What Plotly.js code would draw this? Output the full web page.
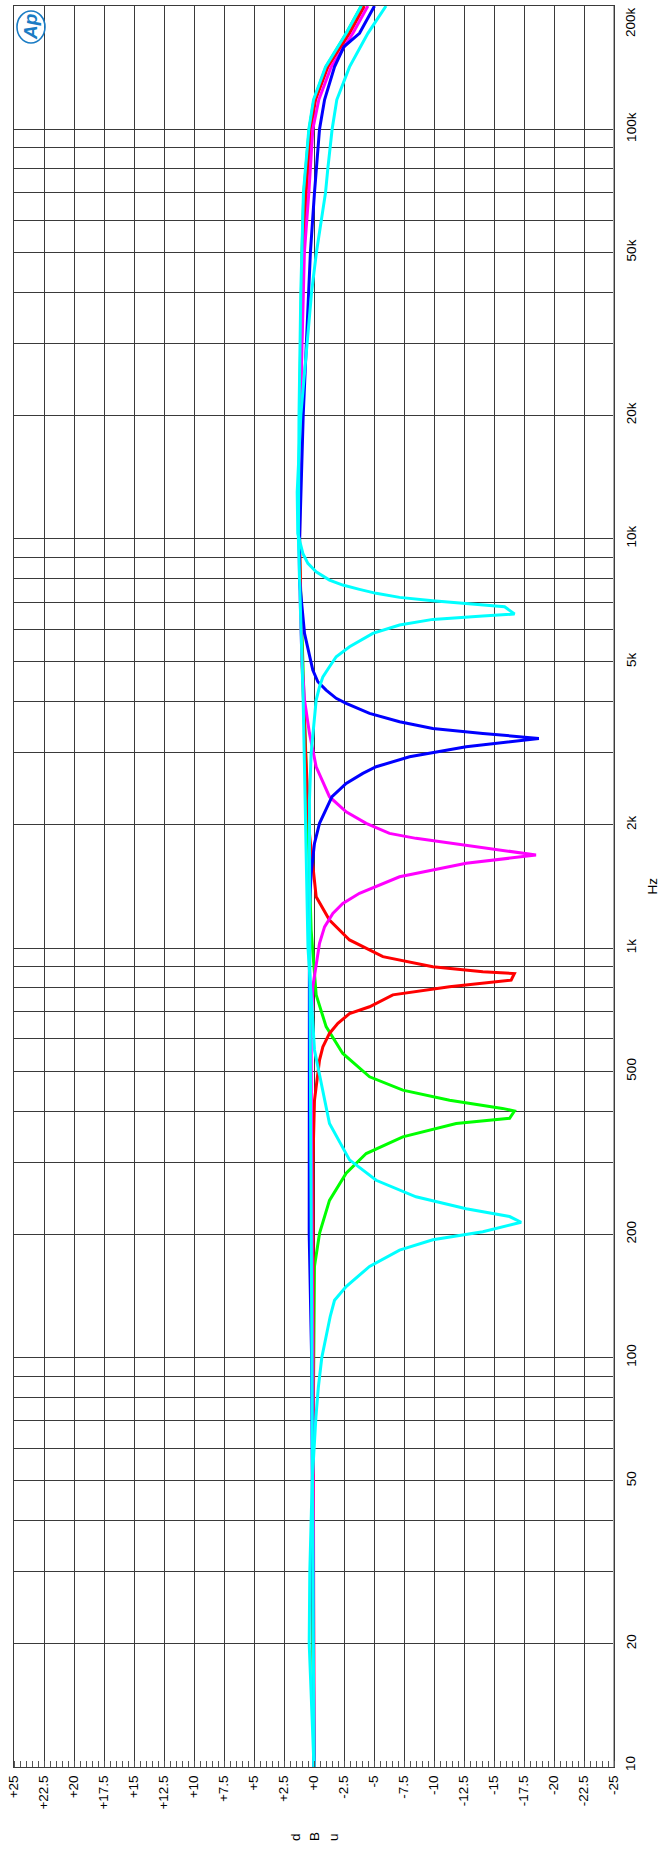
<!DOCTYPE html>
<html>
<head>
<meta charset="utf-8">
<script src="https://cdn.plot.ly/plotly-3.0.1.min.js"></script>
<style>
  html, body { margin: 0; padding: 0; background: #fff; }
  #chart { width: 660px; height: 1852px; }
</style>
</head>
<body>
<div id="chart"></div>
<script>
// ---- axis tick labels ----
const dbTickVals = [25, 22.5, 20, 17.5, 15, 12.5, 10, 7.5, 5, 2.5, 0, -2.5, -5, -7.5, -10, -12.5, -15, -17.5, -20, -22.5, -25];
const dbTickText = ['+25', '+22.5', '+20', '+17.5', '+15', '+12.5', '+10', '+7.5', '+5', '+2.5', '+0', '-2.5', '-5', '-7.5', '-10', '-12.5', '-15', '-17.5', '-20', '-22.5', '-25'];
const freqLabelVals = [20, 50, 100, 200, 500, 1000, 2000, 5000, 10000, 20000, 50000, 100000];
const freqLabelText = ['20', '50', '100', '200', '500', '1k', '2k', '5k', '10k', '20k', '50k', '100k'];
const freqEndVals = [10, 200000];
const freqEndText = ['10', '200k'];

// ---- series (Hz, dBu) ----
const cyanAFreq = [10, 20, 30, 50, 71.5, 84.5, 100, 114, 126, 138, 149, 167, 183, 194, 203, 214, 221, 231, 247, 271, 304, 373, 485, 564, 769, 1000, 2000, 4000, 7000, 10000, 20000, 40000, 70000, 80000, 100000, 118000, 142000, 171500, 200000];
const cyanADb   = [0.0, 0.4, 0.35, 0.15, -0.16, -0.36, -0.65, -1.05, -1.35, -1.71, -2.68, -4.63, -7.13, -9.9, -14.07, -17.26, -16.3, -12.68, -8.5, -5.18, -2.96, -1.29, -0.46, -0.04, 0.24, 0.5, 0.7, 0.9, 1.15, 1.3, 1.25, 1.1, 0.88, 0.71, 0.43, 0.04, -0.96, -2.68, -3.93];

const greenFreq = [10, 20, 50, 100, 130, 167, 201, 242, 282, 315, 346, 373, 384, 400, 406, 425, 450, 485, 553, 643, 769, 1107, 2000, 5000, 10000, 20000, 50000, 70000, 100000, 118000, 142000, 171500, 200000];
const greenDb   = [0.0, 0.1, 0.1, 0.05, 0.0, -0.04, -0.46, -1.29, -2.68, -4.35, -7.4, -11.85, -16.3, -16.7, -15.7, -11.3, -7.4, -4.63, -2.4, -1.01, -0.18, 0.24, 0.5, 0.9, 1.25, 1.2, 1.0, 0.85, 0.4, 0.0, -1.0, -2.7, -3.95];

const redFreq = [10, 50, 100, 185, 292, 425, 533, 574, 619, 655, 692, 719, 769, 805, 835, 867, 876, 901, 953, 1047, 1171, 1335, 1907, 3000, 5000, 10000, 20000, 50000, 70000, 100000, 118000, 142000, 171500, 200000];
const redDb   = [0.0, 0.05, 0.1, 0.1, 0.1, -0.04, -0.46, -0.74, -1.29, -1.99, -2.96, -4.63, -6.57, -11.29, -16.43, -16.7, -14.07, -9.9, -5.74, -2.96, -1.29, -0.18, 0.38, 0.7, 1.0, 1.2, 1.15, 0.9, 0.65, 0.29, -0.13, -1.15, -2.96, -4.2];

const magentaFreq = [10, 50, 100, 300, 620, 805, 1027, 1127, 1216, 1286, 1361, 1494, 1611, 1688, 1760, 1854, 1906, 2017, 2153, 2343, 2773, 3350, 4035, 5000, 8000, 10000, 20000, 50000, 70000, 100000, 118000, 142000, 171500, 200000];
const magentaDb   = [0.0, 0.05, 0.1, 0.2, 0.24, 0.1, -0.46, -0.88, -1.57, -2.4, -3.79, -7.13, -12.68, -18.5, -14.07, -8.5, -6.29, -4.35, -2.68, -1.29, -0.18, 0.38, 0.79, 1.0, 1.2, 1.25, 1.15, 0.8, 0.43, 0.1, -0.4, -1.43, -3.24, -4.49];

const blueFreq = [10, 50, 100, 200, 500, 1000, 1262, 1523, 1802, 2017, 2343, 2526, 2672, 2773, 2934, 3102, 3252, 3345, 3441, 3572, 3745, 3961, 4074, 4269, 4473, 4776, 5871, 7922, 9740, 20000, 50000, 70000, 80000, 100000, 118000, 142000, 159000, 171500, 200000];
const blueDb   = [0.0, 0.1, 0.2, 0.4, 0.4, 0.38, 0.38, 0.24, -0.04, -0.46, -1.5, -2.68, -4.07, -5.18, -7.96, -12.68, -18.74, -14.07, -9.9, -7.13, -4.63, -2.68, -1.85, -1.01, -0.32, 0.1, 0.79, 1.21, 1.21, 0.9, 0.3, -0.04, -0.18, -0.46, -0.88, -1.71, -2.49, -3.79, -5.04];

const cyanBFreq = [10, 50, 100, 500, 1000, 2299, 2990, 3673, 4035, 4348, 4599, 4866, 5148, 5445, 5871, 6152, 6352, 6471, 6546, 6821, 6925, 7055, 7189, 7354, 7520, 7704, 7924, 8303, 8703, 9207, 10300, 13000, 20000, 30000, 40000, 50000, 70000, 80000, 100000, 118000, 142000, 171500, 200000];
const cyanBDb   = [0.0, 0.1, 0.15, 0.3, 0.35, 0.38, 0.24, -0.04, -0.18, -0.46, -0.74, -1.29, -1.85, -2.96, -4.9, -7.13, -9.9, -14.07, -16.71, -15.88, -12.96, -9.9, -7.13, -5.18, -3.79, -2.4, -1.29, -0.18, 0.51, 0.93, 1.35, 1.4, 1.1, 0.6, 0.2, -0.2, -0.96, -1.15, -1.51, -1.9, -2.96, -4.49, -6.0];

// ---- build traces (x = level, y = frequency: the chart is drawn rotated) ----
function tr(f, d, color) {
  return { x: d, y: f, type: 'scatter', mode: 'lines', line: { color: color, width: 3 }, hoverinfo: 'skip' };
}
const traces = [
  tr(greenFreq, greenDb, '#00ff00'),
  tr(redFreq, redDb, '#ff0000'),
  tr(magentaFreq, magentaDb, '#ff00ff'),
  tr(blueFreq, blueDb, '#0000ff'),
  tr(cyanBFreq, cyanBDb, '#00ffff'),
  tr(cyanAFreq, cyanADb, '#00ffff')
];

// log grid lines at every 1..9 multiple
const gridVals = [];
for (let dec = 10; dec <= 100000; dec *= 10) {
  for (let m = 1; m <= 9; m++) gridVals.push(m * dec);
}
gridVals.push(200000);
const gridText = gridVals.map(v => {
  const i = freqLabelVals.indexOf(v);
  return i >= 0 ? freqLabelText[i] : '';
});

const FONT = 'Liberation Sans, Arial, sans-serif';
const gridColor = '#3a3a3a';
const apBlue = '#1a7cc4';

const annotations = [];
freqEndVals.forEach((v, i) => {
  annotations.push({
    xref: 'paper', x: 1, xanchor: 'center', xshift: 16,
    yref: 'y', y: Math.log10(v), yanchor: 'middle', yshift: (v === 200000 ? -16 : 3),
    text: freqEndText[i], showarrow: false, textangle: -90,
    font: { family: FONT, size: 13.5, color: '#000' }
  });
});
annotations.push({
  xref: 'paper', x: 1, xanchor: 'center', xshift: 38,
  yref: 'paper', y: 0.5, yanchor: 'middle',
  text: 'Hz', showarrow: false, textangle: -90,
  font: { family: FONT, size: 13.5, color: '#000' }
});
['d', 'B', 'u'].forEach((c, i) => {
  annotations.push({
    xref: 'x', x: 0, xanchor: 'center', xshift: (i - 1) * 19,
    yref: 'paper', y: 0, yanchor: 'middle', yshift: -70,
    text: c, showarrow: false, textangle: -90,
    font: { family: FONT, size: 13.5, color: '#000' }
  });
});
annotations.push({
  xref: 'paper', x: 0.0283, xanchor: 'center',
  yref: 'paper', y: 0.9881, yanchor: 'middle',
  text: '<b><i>Ap</i></b>', showarrow: false, textangle: -90,
  font: { family: FONT, size: 19, color: apBlue }
});

const shapes = [
  // AP logo ring
  { type: 'circle', xref: 'paper', yref: 'paper', xsizemode: 'pixel', ysizemode: 'pixel',
    xanchor: 0.0283, yanchor: 0.9881, x0: -14, x1: 14, y0: -16, y1: 16,
    line: { color: apBlue, width: 1.6 } },
  // light right frame edge
  { type: 'line', xref: 'x', yref: 'paper', x0: -25, x1: -25, y0: 0, y1: 1,
    line: { color: '#a8a8a8', width: 2 } }
];

const layout = {
  width: 660, height: 1852,
  margin: { l: 14, r: 46, t: 6, b: 85, pad: 0 },
  paper_bgcolor: '#ffffff', plot_bgcolor: '#ffffff',
  showlegend: false,
  xaxis: {
    range: [25, -25], tickmode: 'array', tickvals: dbTickVals, ticktext: dbTickText,
    tickangle: -90, ticks: '', ticklabelstandoff: 2,
    tickfont: { family: FONT, size: 13.5, color: '#000' },
    showgrid: true, gridcolor: gridColor, gridwidth: 1,
    zeroline: false, showline: true, linecolor: gridColor, linewidth: 1, mirror: true,
    minor: { dtick: 0.5, tick0: 0, ticks: 'inside', ticklen: 6, tickcolor: '#555', tickwidth: 1, showgrid: false },
    fixedrange: true
  },
  yaxis: {
    type: 'log', range: [1, Math.log10(200000)], side: 'right',
    tickmode: 'array', tickvals: gridVals, ticktext: gridText,
    tickangle: -90, ticks: '', ticklabelstandoff: 5,
    tickfont: { family: FONT, size: 13.5, color: '#000' },
    showgrid: true, gridcolor: gridColor, gridwidth: 1,
    zeroline: false, showline: true, linecolor: gridColor, linewidth: 1, mirror: true,
    fixedrange: true
  },
  shapes: shapes,
  annotations: annotations
};

Plotly.newPlot('chart', traces, layout, { staticPlot: true, displayModeBar: false });
</script>
</body>
</html>
